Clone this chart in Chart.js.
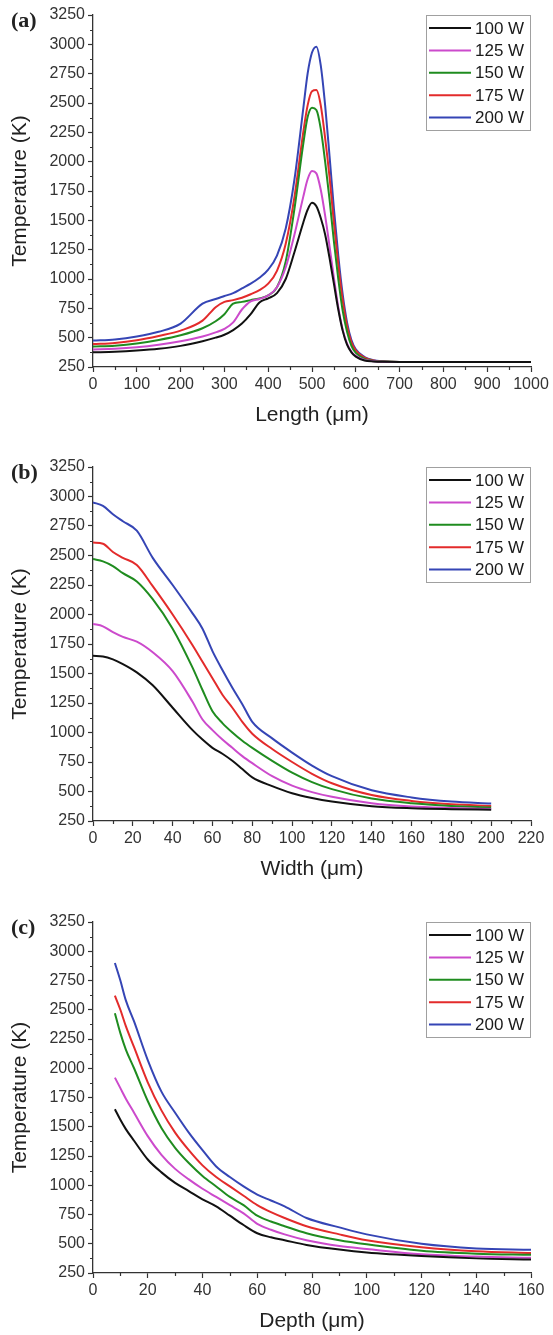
<!DOCTYPE html>
<html>
<head>
<meta charset="utf-8">
<script src="https://cdn.jsdelivr.net/npm/chart.js@4.4.1/dist/chart.umd.min.js"></script>
<style>
html, body { margin: 0; padding: 0; background: #fff; }
body { width: 553px; height: 1335px; position: relative; overflow: hidden; }
canvas { position: absolute; left: 0; }
</style>
</head>
<body>
<canvas id="chartA" width="553" height="428" style="top:0px"></canvas>
<canvas id="chartB" width="553" height="430" style="top:452px"></canvas>
<canvas id="chartC" width="553" height="427" style="top:907px"></canvas>
<script>
// legend labels
const powers = ['100 W', '125 W', '150 W', '175 W', '200 W'];

// (a) temperature along the length
const lengthX = [0, 50, 100, 150, 200, 250, 280, 300, 320, 340, 360, 380, 400, 420, 440, 460, 480, 490, 500, 510, 520, 530, 540, 550, 560, 570, 580, 590, 600, 620, 640, 660, 700, 800, 900, 1000];
const lenT100 = [375, 380, 390, 405, 430, 470, 500, 525, 565, 620, 700, 800, 835, 880, 1000, 1230, 1480, 1590, 1650, 1620, 1520, 1380, 1180, 960, 740, 560, 440, 375, 338, 305, 297, 294, 293, 293, 293, 293];
const lenT125 = [400, 405, 418, 440, 470, 510, 545, 575, 630, 740, 810, 830, 860, 930, 1100, 1380, 1700, 1850, 1920, 1900, 1760, 1540, 1280, 1010, 760, 570, 450, 380, 345, 310, 299, 295, 293, 293, 293, 293];
const lenT150 = [425, 432, 450, 480, 520, 580, 640, 700, 790, 805, 820, 835, 860, 930, 1150, 1600, 2150, 2380, 2460, 2440, 2280, 2000, 1680, 1320, 1000, 730, 550, 430, 370, 320, 302, 296, 293, 293, 293, 293];
const lenT175 = [445, 455, 478, 515, 560, 645, 760, 805, 820, 840, 870, 905, 960, 1070, 1300, 1700, 2250, 2480, 2600, 2610, 2480, 2200, 1870, 1480, 1120, 820, 600, 460, 390, 330, 305, 297, 293, 293, 293, 293];
const lenT200 = [475, 485, 510, 550, 620, 790, 830, 855, 880, 920, 960, 1010, 1080, 1200, 1430, 1850, 2450, 2750, 2930, 2980, 2820, 2480, 2050, 1600, 1200, 870, 630, 480, 400, 335, 308, 298, 293, 293, 293, 293];

// (b) temperature across the width
const widthX = [0, 5, 10, 15, 22, 30, 40, 50, 55, 60, 65, 70, 75, 80, 90, 100, 110, 120, 140, 160, 180, 200];
const widT100 = [1650, 1645, 1620, 1580, 1510, 1400, 1210, 1020, 940, 870, 820, 760, 690, 620, 545, 485, 445, 415, 375, 358, 350, 345];
const widT125 = [1920, 1900, 1850, 1810, 1770, 1680, 1520, 1260, 1110, 1020, 940, 870, 800, 740, 630, 550, 495, 455, 400, 372, 360, 352];
const widT150 = [2470, 2450, 2410, 2350, 2280, 2130, 1880, 1550, 1360, 1180, 1080, 1000, 930, 870, 760, 660, 580, 520, 440, 400, 378, 365];
const widT175 = [2610, 2600, 2530, 2480, 2420, 2240, 2000, 1740, 1600, 1460, 1320, 1210, 1090, 990, 860, 750, 650, 570, 470, 420, 392, 378];
const widT200 = [2950, 2920, 2850, 2790, 2710, 2480, 2250, 2010, 1880, 1690, 1530, 1380, 1240, 1090, 950, 830, 720, 630, 510, 450, 415, 398];

// (c) temperature in depth
const depthX = [8, 10, 12, 15, 20, 25, 30, 35, 40, 45, 50, 55, 60, 65, 70, 78, 90, 100, 120, 140, 160];
const depT100 = [1650, 1560, 1480, 1380, 1220, 1110, 1020, 950, 880, 820, 740, 660, 590, 555, 530, 490, 450, 425, 395, 375, 365];
const depT125 = [1920, 1830, 1740, 1620, 1420, 1260, 1140, 1050, 970, 900, 830, 760, 670, 620, 580, 530, 480, 455, 410, 390, 380];
const depT150 = [2470, 2300, 2160, 2000, 1720, 1490, 1320, 1190, 1080, 990, 900, 830, 740, 690, 650, 590, 530, 495, 440, 415, 405];
const depT175 = [2620, 2500, 2360, 2180, 1880, 1640, 1450, 1300, 1170, 1070, 990, 910, 830, 770, 720, 650, 580, 530, 470, 435, 420];
const depT200 = [2900, 2750, 2580, 2400, 2070, 1800, 1620, 1450, 1300, 1160, 1070, 990, 920, 870, 820, 720, 640, 580, 500, 460, 448];

const colors = ['#111111', '#cc4acc', '#1f8c1f', '#e32b2b', '#3545b5'];
const sans = '"Liberation Sans", Arial, sans-serif';
const ink = '#333';

// minor ticks, boxed legend and panel tag
const extras = {
  id: 'extras',
  afterDraw(chart, args, opts) {
    const ctx = chart.ctx;
    const xs = chart.scales.x, ys = chart.scales.y, area = chart.chartArea;
    ctx.save();
    ctx.strokeStyle = ink;
    ctx.lineWidth = 1.2;
    ctx.beginPath();
    for (let v = ys.min + 125; v < ys.max; v += 250) {
      const py = Math.round(ys.getPixelForValue(v)) + 0.5;
      ctx.moveTo(area.left, py);
      ctx.lineTo(area.left - 3, py);
    }
    const half = opts.step / 2;
    for (let v = xs.min + half; v < xs.max; v += opts.step) {
      const px = Math.round(xs.getPixelForValue(v)) + 0.5;
      ctx.moveTo(px, area.bottom);
      ctx.lineTo(px, area.bottom + 3);
    }
    ctx.stroke();

    const bw = 104, bh = 115;
    const bx = area.right - bw - 1, by = area.top;
    ctx.strokeStyle = '#a0a0a0';
    ctx.lineWidth = 1;
    ctx.strokeRect(bx + 0.5, by + 0.5, bw, bh);
    ctx.font = '17px ' + sans;
    ctx.textBaseline = 'middle';
    chart.data.datasets.forEach((ds, i) => {
      const ly = by + 13 + i * 22.4;
      ctx.strokeStyle = ds.borderColor;
      ctx.lineWidth = 2;
      ctx.beginPath();
      ctx.moveTo(bx + 3, ly);
      ctx.lineTo(bx + 45, ly);
      ctx.stroke();
      ctx.fillStyle = '#1a1a1a';
      ctx.fillText(ds.label, bx + 49, ly + 1);
    });

    ctx.font = 'bold 22px "Liberation Serif", "Times New Roman", serif';
    ctx.fillStyle = '#222';
    ctx.textBaseline = 'middle';
    ctx.fillText(opts.tag, 11, area.top + 6);
    ctx.restore();
  }
};

function makeChart(id, tag, xs, series, xTitle, xMax, step, topPad) {
  return new Chart(document.getElementById(id), {
    type: 'line',
    data: {
      datasets: series.map((s, i) => ({
        label: powers[i],
        data: xs.map((x, j) => ({ x: x, y: s[j] })),
        borderColor: colors[i],
        borderWidth: 2,
        pointRadius: 0,
        fill: false,
        cubicInterpolationMode: 'monotone'
      }))
    },
    options: {
      responsive: false,
      animation: false,
      devicePixelRatio: 1,
      layout: { padding: { top: topPad, right: 22, left: 0, bottom: 0 } },
      plugins: {
        legend: { display: false },
        tooltip: { enabled: false },
        extras: { tag: tag, step: step }
      },
      scales: {
        x: {
          type: 'linear',
          min: 0,
          max: xMax,
          ticks: { stepSize: step, autoSkip: false, maxRotation: 0, padding: 3, color: ink, font: { family: sans, size: 16 }, callback: v => String(v) },
          grid: { drawOnChartArea: false, tickLength: 5, tickColor: ink, tickWidth: 1.2 },
          border: { color: ink, width: 1.3 },
          title: { display: true, text: xTitle, color: '#222', font: { family: sans, size: 21 }, padding: { top: 0, bottom: 0 } },
          afterFit(scale) { scale.height = 61; }
        },
        y: {
          type: 'linear',
          min: 250,
          max: 3250,
          ticks: { stepSize: 250, autoSkip: false, padding: 3, color: ink, font: { family: sans, size: 16 }, callback: v => String(v) },
          grid: { drawOnChartArea: false, tickLength: 5, tickColor: ink, tickWidth: 1.2 },
          border: { color: ink, width: 1.3 },
          title: { display: true, text: 'Temperature (K)', color: '#222', font: { family: sans, size: 21 }, padding: { top: 8, bottom: 0 } },
          afterFit(scale) { scale.width = 93; }
        }
      }
    },
    plugins: [extras]
  });
}

makeChart('chartA', '(a)', lengthX, [lenT100, lenT125, lenT150, lenT175, lenT200], 'Length (\u03bcm)', 1000, 100, 15);
makeChart('chartB', '(b)', widthX, [widT100, widT125, widT150, widT175, widT200], 'Width (\u03bcm)', 220, 20, 15);
makeChart('chartC', '(c)', depthX, [depT100, depT125, depT150, depT175, depT200], 'Depth (\u03bcm)', 160, 20, 15);
</script>
</body>
</html>
